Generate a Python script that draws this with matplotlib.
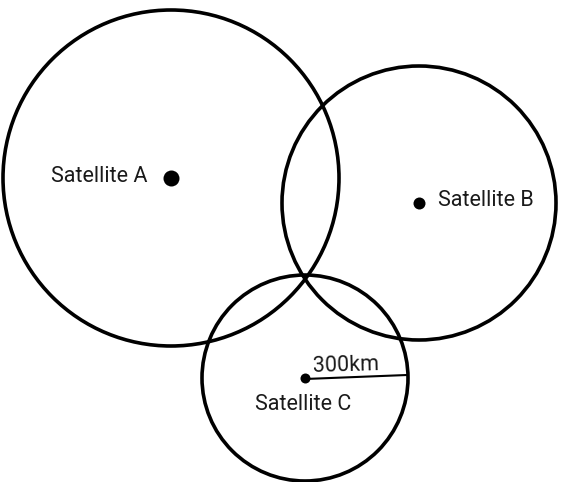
import numpy as np
import matplotlib.pyplot as plt
from matplotlib.patches import Circle

# satellite positions and ranges (picture units, y downward)
names = ["Satellite A", "Satellite B", "Satellite C"]
cx = [171, 419, 305]
cy = [178, 203, 378]
radius = [168, 137, 103]
dot_size = [16, 12, 10]

# radius marker on satellite C
range_label = "300km"
range_end = (407, 375)

plt.rcParams["font.family"] = ["Roboto", "DejaVu Sans"]

fig = plt.figure(figsize=(5.61, 4.82), dpi=100)
ax = fig.add_axes([0, 0, 1, 1])
ax.set_xlim(0, 561)
ax.set_ylim(482, 0)
ax.set_aspect("equal")
ax.axis("off")

for x, y, r in zip(cx, cy, radius):
    ax.add_patch(Circle((x, y), r, fill=False, ec="black", lw=2.6))

for x, y, d in zip(cx, cy, dot_size):
    ax.plot(x, y, "o", color="black", ms=d * 0.72, mec="none")

# labels
fs = 15.5
ax.text(cx[0] - 23, cy[0] - 1, names[0], fontsize=fs, ha="right", va="center", color="#1a1a1a")
ax.text(cx[1] + 19, cy[1] - 3, names[1], fontsize=fs, ha="left", va="center", color="#1a1a1a")
ax.text(cx[2] - 2, cy[2] + 27, names[2], fontsize=fs, ha="center", va="center", color="#1a1a1a")

# range line
ax.plot([cx[2], range_end[0]], [cy[2] + 1, range_end[1]], color="black", lw=1.5)
ang = np.degrees(np.arctan2(cy[2] - range_end[1], range_end[0] - cx[2]))
ax.text(346, 366, range_label, fontsize=fs, ha="center", va="center", rotation=ang, color="#1a1a1a")

fig.savefig("out.png", dpi=100)
